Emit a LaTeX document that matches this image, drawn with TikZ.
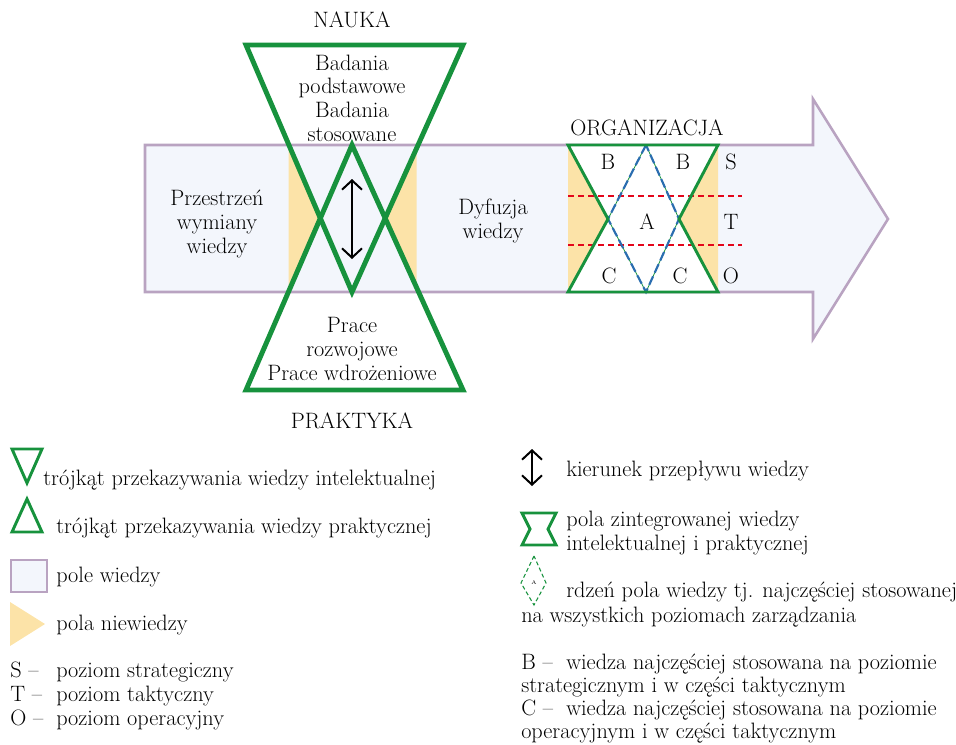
\documentclass[tikz,border=0pt]{standalone}
\usepackage{fontspec}
\usepackage{tikz}
\usetikzlibrary{arrows.meta}
\definecolor{wgreen}{HTML}{17923D}
\definecolor{wyellow}{HTML}{FCE3A8}
\definecolor{wband}{HTML}{F3F6FC}
\definecolor{wframe}{HTML}{B9A3C1}
\definecolor{wred}{HTML}{E3061B}
\definecolor{wblue}{HTML}{2A6DB0}
\tikzset{every picture/.style={x=0.75pt,y=-0.75pt,every node/.style={inner sep=0pt,font=\fontsize{16.7}{17.8}\selectfont}},
  bigtri/.style={draw=wgreen,line width=3.7pt,line join=miter},
  smalltri/.style={draw=wgreen,line width=2.2pt,line join=miter},
  field/.style={fill=wband,draw=wframe,line width=1.9pt},
  gap/.style={fill=wyellow},
  flow/.style={{Straight Barb[length=7pt,width=15pt]}-{Straight Barb[length=7pt,width=15pt]},line width=1.5pt},
  level/.style={wred,dashed,line width=1.2pt,dash pattern=on 4.5pt off 3pt},
  txt/.style={align=center}}

\begin{document}
\begin{tikzpicture}
    \useasboundingbox (0,0) rectangle (956,744);

    \draw[field] (145,145) -- (813,145) -- (813,99) -- (888,219) -- (813,339) -- (813,292) -- (145,292) -- cycle;

    \coordinate (ntl) at (246,45);
    \coordinate (ntr) at (463,45);
    \coordinate (nap) at (352,292);
    \coordinate (pbl) at (246,390);
    \coordinate (pbr) at (463,390);
    \coordinate (pap) at (352,145);

    \fill[gap] (288.5,145) -- (intersection of ntl--nap and pbl--pap) -- (288.5,292) -- cycle;
    \fill[gap] (416.5,145) -- (intersection of ntr--nap and pbr--pap) -- (416.5,292) -- cycle;
    \draw[bigtri] (ntl) -- (ntr) -- (nap) -- cycle;
    \draw[bigtri] (pbl) -- (pbr) -- (pap) -- cycle;

    \coordinate (fup) at (352,179);
    \coordinate (fdn) at (352,259);
    \draw[flow] (fup) -- (fdn);

    \node (nauka) at (352,20) {NAUKA};
    \node[txt] (badania) at (352,98) {Badania\\podstawowe\\Badania\\stosowane};
    \node[txt] (prace) at (352,349) {Prace\\rozwojowe\\Prace wdrożeniowe};
    \node (praktyka) at (352,421) {PRAKTYKA};
    \node[txt] (przestrzen) at (217,224) {Przestrzeń\\wymiany\\wiedzy};
    \node[txt] (dyfuzja) at (493,221) {Dyfuzja\\wiedzy};

    \coordinate (otl) at (568,145);
    \coordinate (otr) at (718,145);
    \coordinate (obl) at (568,292);
    \coordinate (obr) at (718,292);
    \coordinate (owl) at (608,219);
    \coordinate (owr) at (679,219);
    \coordinate (odt) at (646,145);
    \coordinate (odb) at (646,292);

    \fill[white] (otl) -- (otr) -- (owr) -- (obr) -- (obl) -- (owl) -- cycle;
    \fill[gap] (otl) -- (owl) -- (obl) -- cycle;
    \fill[gap] (otr) -- (owr) -- (obr) -- cycle;
    \draw[level] (568,196) -- (742,196);
    \draw[level] (568,245) -- (742,245);
    \draw[wgreen,line width=0.6pt] (odt) -- (owl) -- (odb) -- (owr) -- cycle;
    \draw[wblue,line width=1.6pt,dash pattern=on 7pt off 3pt] (odt) -- (owl) -- (odb) -- (owr) -- cycle;
    \draw[smalltri] (otl) -- (otr) -- (owr) -- (obr) -- (obl) -- (owl) -- cycle;

    \node (organizacja) at (647,128) {ORGANIZACJA};
    \node[anchor=base] (b1) at (608,169) {B};
    \node[anchor=base] (b2) at (683,169) {B};
    \node[anchor=base] (a) at (647,229) {A};
    \node[anchor=base] (c1) at (609,283) {C};
    \node[anchor=base] (c2) at (680,283) {C};
    \node[anchor=base] (s) at (731,169) {S};
    \node[anchor=base] (t) at (731,229) {T};
    \node[anchor=base] (o) at (731,283) {O};

    \draw[smalltri] (12,449) -- (42,449) -- (27,483) -- cycle;
    \node[anchor=base west] (l1) at (43,485) {trójkąt przekazywania wiedzy intelektualnej};
    \draw[smalltri] (12,532) -- (42,532) -- (27,499) -- cycle;
    \node[anchor=base west] (l2) at (56,533) {trójkąt przekazywania wiedzy praktycznej};
    \draw[field] (11,560) rectangle (47,592);
    \node[anchor=base west] (l3) at (56,582) {pole wiedzy};
    \fill[gap] (10,602) -- (45,624) -- (10,646) -- cycle;
    \node[anchor=base west] (l4) at (56,630) {pola niewiedzy};
    \node[anchor=base west] (ls) at (10,677) {S –};
    \node[anchor=base west] (l5) at (56,677) {poziom strategiczny};
    \node[anchor=base west] (lt) at (10,701) {T –};
    \node[anchor=base west] (l6) at (56,701) {poziom taktyczny};
    \node[anchor=base west] (lo) at (10,725) {O –};
    \node[anchor=base west] (l7) at (56,725) {poziom operacyjny};

    \coordinate (kup) at (532,449);
    \coordinate (kdn) at (532,486);
    \draw[flow] (kup) -- (kdn);
    \node[anchor=base west] (r1) at (566,476) {kierunek przepływu wiedzy};
    \draw[smalltri] (522,513) -- (556,513) -- (548,529) -- (556,545) -- (522,545) -- (530,529) -- cycle;
    \node[anchor=base west] (r2) at (566,526) {pola zintegrowanej wiedzy};
    \node[anchor=base west] (r3) at (566,550) {intelektualnej i praktycznej};
    \draw[wgreen,line width=0.8pt,dash pattern=on 3pt off 2pt] (534,556) -- (521,583) -- (534,605) -- (546,583) -- cycle;
    \node[font=\fontsize{4}{5}\selectfont] (amini) at (534,583) {A};
    \node[anchor=base west] (r4) at (566,597) {rdzeń pola wiedzy tj. najczęściej stosowanej};
    \node[anchor=base west] (r5) at (521,622) {na wszystkich poziomach zarządzania};
    \node[anchor=base west] (rb) at (521,669) {B –};
    \node[anchor=base west] (r6) at (566,669) {wiedza najczęściej stosowana na poziomie};
    \node[anchor=base west] (r7) at (521,692) {strategicznym i w części taktycznym};
    \node[anchor=base west] (rc) at (521,715) {C –};
    \node[anchor=base west] (r8) at (566,715) {wiedza najczęściej stosowana na poziomie};
    \node[anchor=base west] (r9) at (521,738) {operacyjnym i w części taktycznym};
  \end{tikzpicture}
\end{document}
